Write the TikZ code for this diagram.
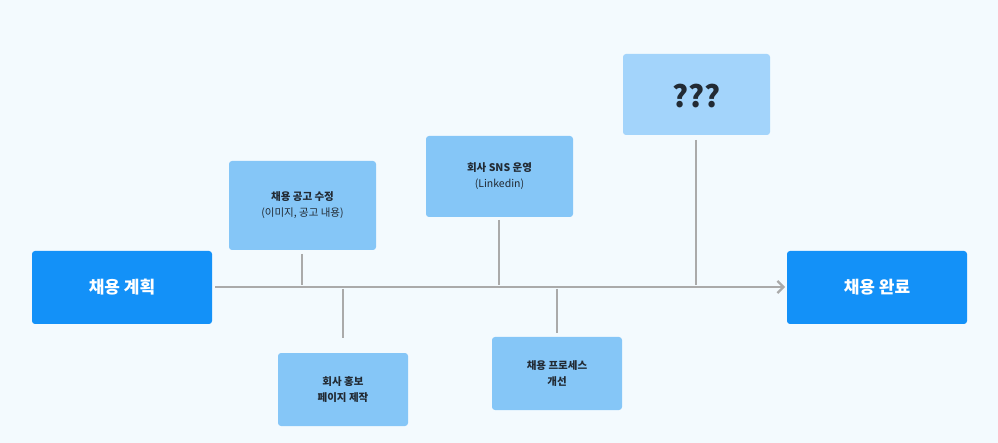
\documentclass[tikz,border=0pt]{standalone}
\usepackage{fontspec}
\setmainfont{Noto Sans CJK KR}
\usetikzlibrary{arrows.meta}
\definecolor{bg}{HTML}{F3FAFE}
\definecolor{mainb}{HTML}{1391F8}
\definecolor{subb}{HTML}{85C6F7}
\definecolor{qb}{HTML}{A3D4FB}
\definecolor{ln}{HTML}{AAAAAA}
\definecolor{tx}{HTML}{222A33}
\tikzset{
 mainbox/.style={fill=mainb,rounded corners=3pt,text=white,font=\bfseries\fontsize{17}{20}\selectfont},
 subbox/.style={fill=subb,rounded corners=3pt,text=tx,font=\fontsize{10.5}{16}\selectfont,align=center},
 qbox/.style={fill=qb,rounded corners=3pt,text=tx,font=\bfseries\fontsize{30}{32}\selectfont},
 stem/.style={ln,line width=2.2pt}
}
\begin{document}
\begin{tikzpicture}[x=1pt,y=-1pt]
\fill[bg] (0,0) rectangle (998,443);
\useasboundingbox (0,0) rectangle (998,443);
\path[mainbox] (32,251) rectangle (212,324); \node[mainbox,fill=none] (start) at (122,287.5) {채용 계획};
\path[mainbox] (787,251) rectangle (967,324); \node[mainbox,fill=none] (end) at (877,287.5) {채용 완료};
\coordinate (ls) at (215,287); \coordinate (le) at (785,287);
\draw[stem,-{Straight Barb[length=6pt,width=12pt]}] (ls) -- (le);
\path[subbox] (229,161) rectangle (376,250); \node[subbox,fill=none] (b1) at (302.5,205.5) {\textbf{채용 공고 수정}\\(이미지, 공고 내용)};
\path[subbox] (426,136) rectangle (573,217); \node[subbox,fill=none] (b2) at (499.5,176.5) {\textbf{회사 SNS 운영}\\(Linkedin)};
\path[qbox] (623,54) rectangle (770,135); \node[qbox,fill=none] (b3) at (696.5,96) {???};
\path[subbox] (278,353) rectangle (408,426); \node[subbox,fill=none] (b4) at (343,389.5) {\textbf{회사 홍보}\\\textbf{페이지 제작}};
\path[subbox] (492,337) rectangle (622,410); \node[subbox,fill=none] (b5) at (557,373.5) {\textbf{채용 프로세스}\\\textbf{개선}};
\coordinate (s1a) at (302,254); \coordinate (s1b) at (302,285);
\coordinate (s2a) at (499,220); \coordinate (s2b) at (499,285);
\coordinate (s3a) at (696,140); \coordinate (s3b) at (696,285);
\coordinate (s4a) at (343,289); \coordinate (s4b) at (343,338);
\coordinate (s5a) at (557,289); \coordinate (s5b) at (557,333);
\draw[stem] (s1a)--(s1b); \draw[stem] (s2a)--(s2b); \draw[stem] (s3a)--(s3b);
\draw[stem] (s4a)--(s4b); \draw[stem] (s5a)--(s5b);
\end{tikzpicture}
\end{document}
